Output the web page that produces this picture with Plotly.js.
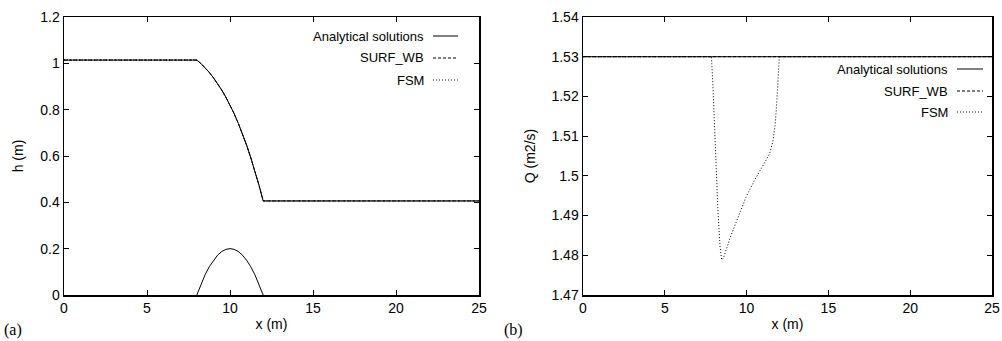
<!DOCTYPE html>
<html>
<head>
<meta charset="utf-8">
<script src="https://cdn.plot.ly/plotly-3.0.1.min.js"></script>
<style>html,body{margin:0;padding:0;background:#fff;}#chart{width:1002px;height:341px;}</style>
</head>
<body>
<div id="chart"></div>
<script>
// ---- data (a): water surface h and bed ----
var xSurface = [0, 8, 8.25, 8.5, 8.75, 9, 9.25, 9.5, 9.75, 10, 10.25, 10.5, 10.75, 11, 11.25, 11.5, 11.75, 12, 25];
var hAnalytical = [1.014, 1.014, 0.999, 0.981, 0.961, 0.938, 0.913, 0.885, 0.854, 0.820, 0.783, 0.741, 0.696, 0.647, 0.593, 0.535, 0.473, 0.406, 0.406];
var hSurfWB = [1.014, 1.014, 0.999, 0.981, 0.961, 0.938, 0.913, 0.885, 0.854, 0.820, 0.783, 0.741, 0.696, 0.647, 0.593, 0.535, 0.473, 0.406, 0.406];
var hFSM = [1.015, 1.015, 0.999, 0.981, 0.961, 0.938, 0.913, 0.885, 0.854, 0.820, 0.783, 0.741, 0.696, 0.647, 0.593, 0.535, 0.473, 0.406, 0.406];
var xBed = [8, 8.25, 8.5, 8.75, 9, 9.25, 9.5, 9.75, 10, 10.25, 10.5, 10.75, 11, 11.25, 11.5, 11.75, 12];
var zBed = [0, 0.047, 0.0875, 0.122, 0.15, 0.172, 0.1875, 0.197, 0.2, 0.197, 0.1875, 0.172, 0.15, 0.122, 0.0875, 0.047, 0];

// ---- data (b): discharge Q ----
var xQ = [0, 25];
var qAnalytical = [1.53, 1.53];
var qSurfWB = [1.53, 1.53];
var xQfsm = [0, 7.85, 7.95, 8.1, 8.25, 8.38, 8.48, 8.6, 9.0, 9.5, 10.0, 10.5, 11.0, 11.4, 11.6, 11.75, 11.85, 11.93, 12.0, 25];
var qFSM = [1.53, 1.53, 1.522, 1.506, 1.491, 1.482, 1.4788, 1.4795, 1.4845, 1.4898, 1.4950, 1.4990, 1.5025, 1.5055, 1.5085, 1.513, 1.519, 1.525, 1.530, 1.53];

// ---- labels ----
var seriesNames = ['Analytical solutions', 'SURF_WB', 'FSM'];
var xTicks = [0, 5, 10, 15, 20, 25];
var panelLabels = ['(a)', '(b)'];

var W = 1002, H = 341;
function px(x) { return x / W; }
function py(y) { return (H - y) / H; }

var lineSolid = {color: '#000', width: 1};
var lineDash = {color: '#000', width: 1, dash: '3px,2px'};
var lineDot = {color: '#000', width: 1, dash: '1px,2px'};

var traces = [
  {x: xSurface, y: hFSM, mode: 'lines', name: seriesNames[2], line: lineDot, xaxis: 'x', yaxis: 'y'},
  {x: xSurface, y: hSurfWB, mode: 'lines', name: seriesNames[1], line: lineDash, xaxis: 'x', yaxis: 'y'},
  {x: xSurface, y: hAnalytical, mode: 'lines', name: seriesNames[0], line: lineSolid, xaxis: 'x', yaxis: 'y'},
  {x: xBed, y: zBed, mode: 'lines', name: 'bed', line: lineSolid, xaxis: 'x', yaxis: 'y'},
  {x: xQfsm, y: qFSM, mode: 'lines', name: seriesNames[2], line: lineDot, xaxis: 'x2', yaxis: 'y2'},
  {x: xQ, y: qSurfWB, mode: 'lines', name: seriesNames[1], line: lineDash, xaxis: 'x2', yaxis: 'y2'},
  {x: xQ, y: qAnalytical, mode: 'lines', name: seriesNames[0], line: lineSolid, xaxis: 'x2', yaxis: 'y2'}
];

var tickFont = {family: 'Liberation Sans, Arial, sans-serif', size: 14, color: '#000'};
function xAxis(domain, anchor) {
  return {domain: domain, anchor: anchor, range: [0, 25], tickvals: xTicks, ticks: 'inside', ticklen: 5,
    tickwidth: 1, tickcolor: '#000', showline: true, linecolor: '#000', linewidth: 1.5, mirror: 'ticks',
    showgrid: false, zeroline: false, tickfont: tickFont, automargin: false, fixedrange: true,
    title: {text: 'x (m)', font: tickFont, standoff: 4}};
}
function yAxis(domain, anchor, range, dtick, title, standoff) {
  return {domain: domain, anchor: anchor, range: range, dtick: dtick, tick0: range[0], ticks: 'inside', ticklen: 5,
    tickwidth: 1, tickcolor: '#000', showline: true, linecolor: '#000', linewidth: 1.5, mirror: 'ticks',
    showgrid: false, zeroline: false, tickfont: tickFont, automargin: false, fixedrange: true,
    title: {text: title, font: tickFont, standoff: standoff}};
}

var yDom = [py(295), py(17)];
var legFont = {family: 'Liberation Sans, Arial, sans-serif', size: 13, color: '#000'};
var annotations = [];
var shapes = [];
function addLegend(textRight, lineX0, lineX1, rows) {
  var dashes = ['solid', '3px,2px', '1px,2px'];
  for (var i = 0; i < 3; i++) {
    annotations.push({xref: 'paper', yref: 'paper', x: px(textRight), y: py(rows[i]), xanchor: 'right', yanchor: 'middle',
      text: seriesNames[i], showarrow: false, font: legFont});
    shapes.push({type: 'line', xref: 'paper', yref: 'paper', x0: px(lineX0), x1: px(lineX1), y0: py(rows[i]), y1: py(rows[i]),
      line: {color: '#000', width: 1, dash: dashes[i]}});
  }
}
addLegend(426, 433, 458, [36, 58, 80]);
addLegend(950, 957, 983, [69, 91, 112]);

var serif = {family: 'Liberation Serif, Times New Roman, serif', size: 16, color: '#000'};
annotations.push({xref: 'paper', yref: 'paper', x: px(2), y: py(330), xanchor: 'left', yanchor: 'middle', text: panelLabels[0], showarrow: false, font: serif});
annotations.push({xref: 'paper', yref: 'paper', x: px(502), y: py(330), xanchor: 'left', yanchor: 'middle', text: panelLabels[1], showarrow: false, font: serif});

var layout = {
  width: W, height: H,
  margin: {l: 0, r: 0, t: 0, b: 0, pad: 0},
  paper_bgcolor: '#fff', plot_bgcolor: '#fff',
  showlegend: false,
  xaxis: xAxis([px(64), px(479)], 'y'),
  yaxis: yAxis(yDom, 'x', [0, 1.2], 0.2, 'h (m)', 13),
  xaxis2: xAxis([px(583), px(992)], 'y2'),
  yaxis2: yAxis(yDom, 'x2', [1.47, 1.54], 0.01, 'Q (m2/s)', 12),
  annotations: annotations,
  shapes: shapes
};

Plotly.newPlot('chart', traces, layout, {staticPlot: true, displayModeBar: false});
</script>
</body>
</html>
